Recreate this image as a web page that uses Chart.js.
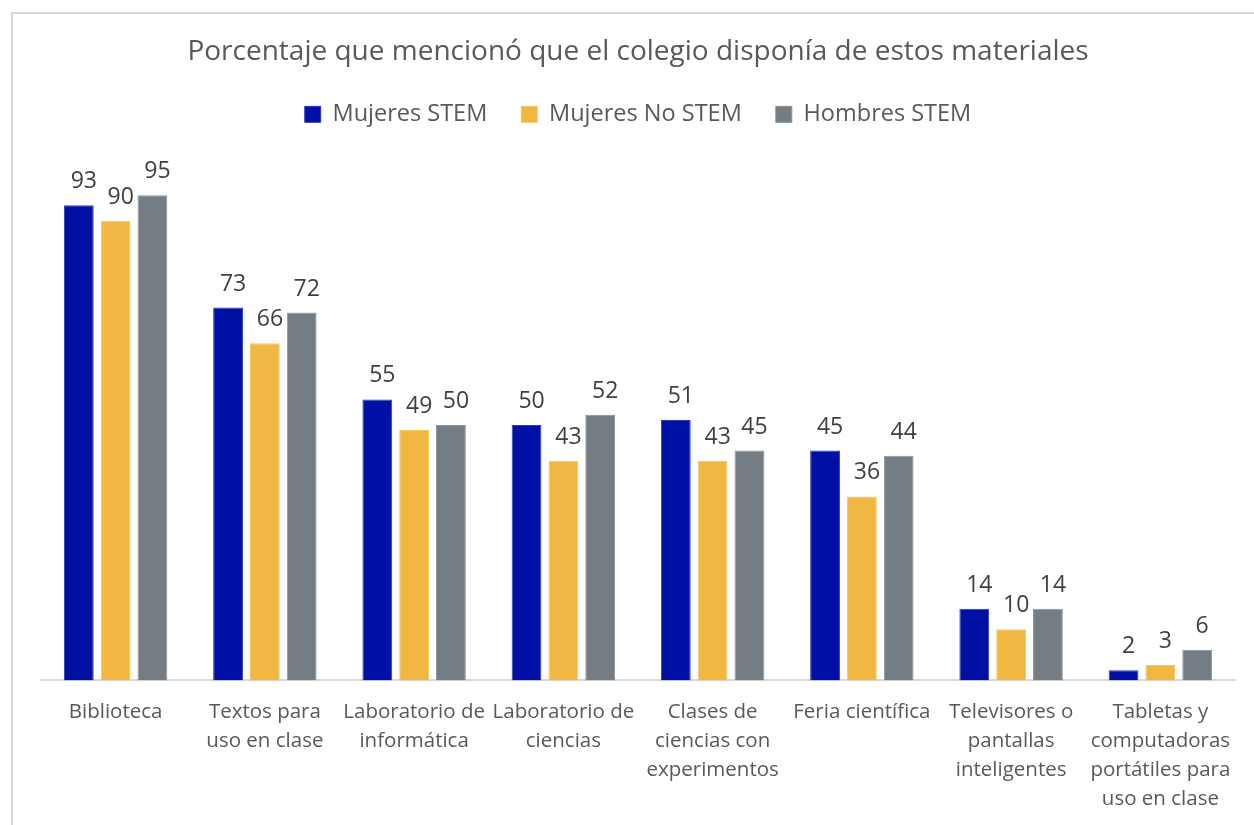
<!DOCTYPE html>
<html>
<head>
<meta charset="utf-8">
<script src="https://cdn.jsdelivr.net/npm/chart.js@4.4.1/dist/chart.umd.min.js"></script>
<style>
  html, body { margin: 0; padding: 0; background: #ffffff; overflow: hidden; }
  body { width: 1254px; height: 825px; position: relative; }
  #frame {
    position: absolute; left: 11px; top: 12px;
    width: 1260px; height: 830px;
    border-top: 2px solid #D9D9D9; border-left: 2px solid #D9D9D9;
    box-sizing: border-box; background: #ffffff;
  }
  #wrap { position: absolute; left: 1px; top: 0px; width: 1252px; height: 827px; }
</style>
</head>
<body>
<div id="frame"><div id="wrap"><canvas id="chart"></canvas></div></div>
<script>
// Categories (multi-line labels for the x axis)
const categories = [
  ['Biblioteca'],
  ['Textos para', 'uso en clase'],
  ['Laboratorio de', 'informática'],
  ['Laboratorio de', 'ciencias'],
  ['Clases de', 'ciencias con', 'experimentos'],
  ['Feria científica'],
  ['Televisores o', 'pantallas', 'inteligentes'],
  ['Tabletas y', 'computadoras', 'portátiles para', 'uso en clase']
];

// Percentages per group
const mujeresStem   = [93, 73, 55, 50, 51, 45, 14, 2];
const mujeresNoStem = [90, 66, 49, 43, 43, 36, 10, 3];
const hombresStem   = [95, 72, 50, 52, 45, 44, 14, 6];

const seriesNames = ['Mujeres STEM', 'Mujeres No STEM', 'Hombres STEM'];
const chartTitle = 'Porcentaje que mencionó que el colegio disponía de estos materiales';

const FONT = '"Open Sans", "Noto Sans", sans-serif';
const TEXT_COLOR = '#595959';

// Value labels drawn above each bar
const barValueLabels = {
  id: 'barValueLabels',
  afterDatasetsDraw(chart) {
    const ctx = chart.ctx;
    ctx.save();
    ctx.font = '23px ' + FONT;
    ctx.fillStyle = '#404040';
    ctx.textAlign = 'center';
    ctx.textBaseline = 'alphabetic';
    chart.data.datasets.forEach((ds, i) => {
      const meta = chart.getDatasetMeta(i);
      meta.data.forEach((bar, j) => {
        ctx.fillText(String(ds.data[j]), bar.x + 5, bar.y - 17);
      });
    });
    ctx.restore();
  }
};

// Fixed height for the legend block, leaving room above the bars
const legendHeight = {
  id: 'legendHeight',
  beforeLayout(chart) {
    const legend = chart.legend;
    if (legend && !legend._fixedFit) {
      const fit = legend.fit;
      legend.fit = function () {
        fit.call(this);
        this.height = 101;
      };
      legend._fixedFit = true;
    }
  }
};

new Chart(document.getElementById('chart'), {
  type: 'bar',
  data: {
    labels: categories,
    datasets: [
      { label: seriesNames[0], data: mujeresStem,   backgroundColor: '#0010A5', borderColor: '#2B3BB5', borderWidth: 1 },
      { label: seriesNames[1], data: mujeresNoStem, backgroundColor: '#F0B742', borderColor: '#F4C766', borderWidth: 1 },
      { label: seriesNames[2], data: hombresStem,   backgroundColor: '#757D84', borderColor: '#8C939A', borderWidth: 1 }
    ]
  },
  options: {
    responsive: true,
    maintainAspectRatio: false,
    animation: false,
    datasets: {
      bar: { categoryPercentage: 0.74, barPercentage: 0.81 }
    },
    layout: { padding: { left: 27, right: 31, top: 0, bottom: 10 } },
    scales: {
      x: {
        grid: { display: false, drawTicks: false },
        border: { display: true, color: '#D9D9D9', width: 2 },
        ticks: {
          color: TEXT_COLOR,
          font: { family: FONT, size: 20.5, lineHeight: 1.41 },
          padding: 17.5,
          maxRotation: 0,
          autoSkip: false
        }
      },
      y: {
        display: false,
        min: 0,
        max: 100
      }
    },
    plugins: {
      title: {
        display: true,
        text: chartTitle,
        color: TEXT_COLOR,
        font: { family: FONT, size: 28, weight: 'normal' },
        padding: { top: 21, bottom: 0 }
      },
      legend: {
        display: true,
        position: 'top',
        labels: {
          color: TEXT_COLOR,
          font: { family: FONT, size: 23.5 },
          boxWidth: 16,
          boxHeight: 16,
          padding: 34
        }
      },
      tooltip: { enabled: false }
    }
  },
  plugins: [barValueLabels, legendHeight]
});
</script>
</body>
</html>
